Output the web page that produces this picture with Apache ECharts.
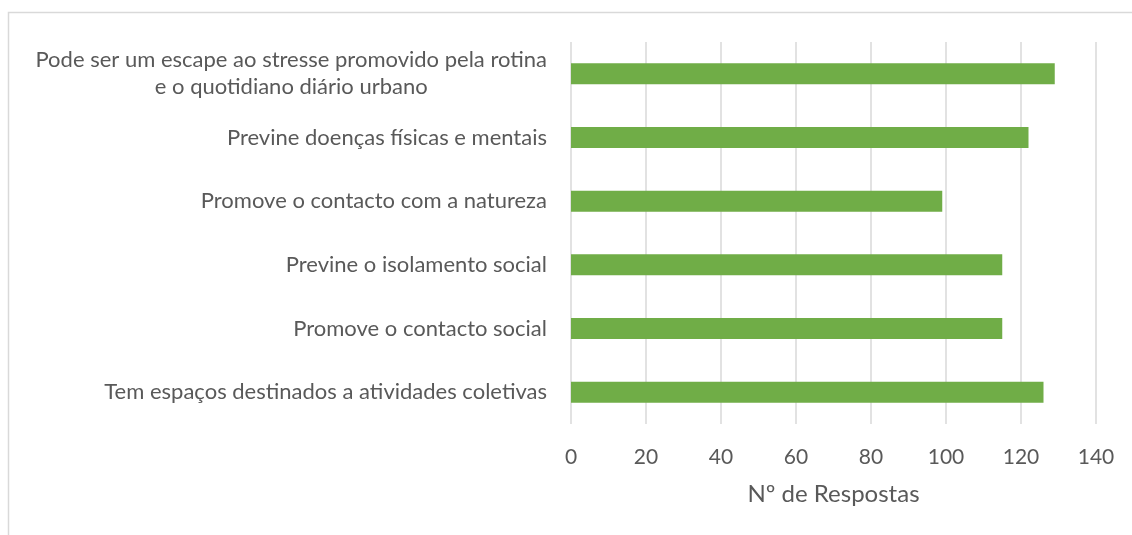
<html>
<head>
<meta charset="utf-8">
<style>
    *{box-sizing: border-box;}
    body,html{margin:0;padding:0;width:100%;height:100%;background:#fff;}
    #chart{width:1132px;height:535px;}
</style>
<script src="https://cdn.jsdelivr.net/npm/echarts@6/dist/echarts.min.js"></script>
</head>
<body>
<div id="chart"></div>
<script>
    var categories = [
        "Pode ser um escape ao stresse promovido pela rotina\ne o quotidiano diário urbano",
        "Previne doenças físicas e mentais",
        "Promove o contacto com a natureza",
        "Previne o isolamento social",
        "Promove o contacto social",
        "Tem espaços destinados a atividades coletivas"
    ];
    var respostas = [129, 122, 99, 115, 115, 126];
    var xTicks = [0, 20, 40, 60, 80, 100, 120, 140];

    var font = "Lato";
    var chart = echarts.init(document.getElementById('chart'));

    var option = {
        animation: false,
        textStyle: {fontFamily: font},
        graphic: [{
            type: 'rect',
            shape: {x: 8.5, y: 12.5, width: 1140, height: 540},
            style: {fill: 'none', stroke: '#d9d9d9', lineWidth: 1.5},
            silent: true
        }],
        grid: {left: 571, right: 36, top: 42, bottom: 111},
        xAxis: {
            type: 'value',
            min: xTicks[0],
            max: xTicks[xTicks.length - 1],
            interval: 20,
            axisLine: {show: false},
            axisTick: {show: false},
            splitLine: {lineStyle: {color: '#d9d9d9', width: 1.5}},
            axisLabel: {color: '#595959', fontSize: 21, margin: 23, fontFamily: font},
            name: 'Nº de Respostas',
            nameLocation: 'middle',
            nameGap: 58,
            nameTextStyle: {color: '#595959', fontSize: 24, fontFamily: font}
        },
        yAxis: {
            type: 'category',
            inverse: true,
            data: categories,
            axisLine: {show: false},
            axisTick: {show: false},
            axisLabel: {
                color: '#595959',
                fontSize: 22,
                margin: 24,
                fontFamily: font,
                lineHeight: 27,
                formatter: function (v) {
                    return v.split('\n').map(function (s) { return '{c|' + s + '}'; }).join('\n');
                },
                rich: {c: {align: 'center', color: '#595959', fontSize: 22, fontFamily: font, lineHeight: 27}}
            }
        },
        series: [{
            type: 'bar',
            data: respostas,
            barWidth: 21,
            itemStyle: {color: '#70ad47'}
        }]
    };
    chart.setOption(option);
</script>
</body>
</html>
